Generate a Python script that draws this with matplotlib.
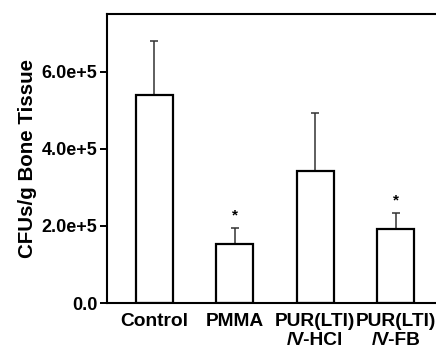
import numpy as np
import matplotlib.pyplot as plt

plt.rcParams['font.family'] = ['Liberation Sans', 'DejaVu Sans']
plt.rcParams['font.weight'] = 'bold'

groups = ['Control', 'PMMA', 'PUR(LTI)\n/V-HCl', 'PUR(LTI)\n/V-FB']
cfu_mean = [5.39e5, 1.54e5, 3.43e5, 1.91e5]
cfu_sd = [1.40e5, 0.41e5, 1.50e5, 0.43e5]
significant = [False, True, False, True]

fig = plt.figure(figsize=(4.36, 3.48), dpi=100)
ax = fig.add_axes([0.2454, 0.1293, 0.773, 0.8305])

x = np.arange(len(groups))
ax.bar(x, cfu_mean, width=0.46, color='white', edgecolor='black', linewidth=1.6, zorder=2)
ax.errorbar(x, cfu_mean, yerr=[np.zeros(len(x)), cfu_sd], fmt='none',
            ecolor='#333333', elinewidth=1.1, capsize=3, capthick=1.1, zorder=1)

for xi, m, s, sig in zip(x, cfu_mean, cfu_sd, significant):
    if sig:
        ax.annotate('*', (xi, m + s), xytext=(0, 4), textcoords='offset points',
                    ha='center', va='bottom', fontsize=11, fontweight='bold')

ax.set_xlim(-0.59, 3.6)
ax.set_ylim(0, 7.5e5)
ax.set_yticks([0, 2e5, 4e5, 6e5])
ax.set_yticklabels(['0.0', '2.0e+5', '4.0e+5', '6.0e+5'], fontsize=13, fontweight='bold')
ax.set_xticks(x)
ax.set_xticklabels(groups, fontsize=13.8, fontweight='bold', linespacing=1.15)
ax.tick_params(axis='x', length=0, pad=7)
ax.tick_params(axis='y', length=5, width=1.4, direction='out', pad=2)
ax.set_ylabel('CFUs/g Bone Tissue', fontsize=14.8, fontweight='bold', labelpad=3)

for sp in ax.spines.values():
    sp.set_linewidth(1.5)

plt.savefig('out.png', dpi=100)
plt.close()
